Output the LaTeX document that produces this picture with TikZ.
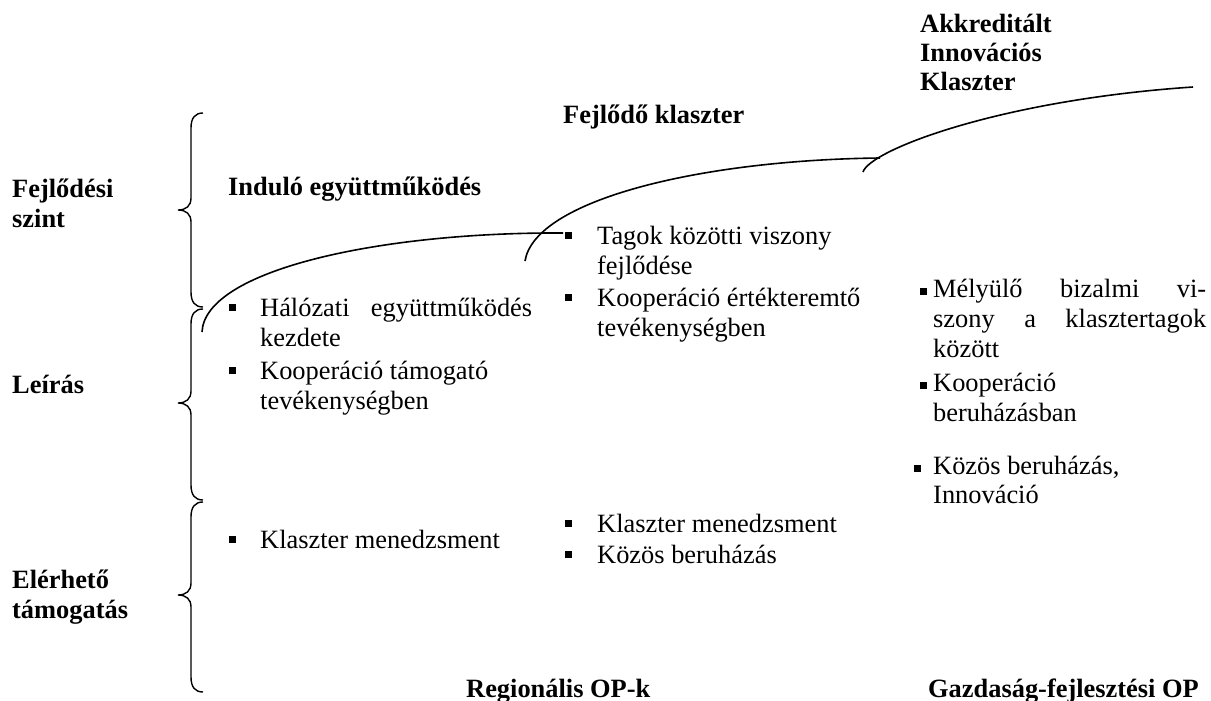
\documentclass[tikz,border=0pt]{standalone}
\usepackage{fontspec}
\setmainfont{Liberation Serif}
\begin{document}
\begin{tikzpicture}[x=1pt,y=-1pt,
  txt/.style={anchor=base west,inner sep=0pt,font=\fontsize{26.4}{30}\selectfont},
  btxt/.style={txt,font=\fontsize{26.4}{30}\selectfont\bfseries},
  sq/.style={fill=black,inner sep=0pt,minimum size=7pt},
  curve/.style={line width=1.6pt},
  brace/.style={line width=1.4pt}]
\useasboundingbox (0,0) rectangle (1211,701);

% left labels
\node[btxt] (fej1) at (12,197) {Fejlődési};
\node[btxt] (fej2) at (12,227) {szint};
\node[btxt] (leir) at (12,393) {Leírás};
\node[btxt] (elt1) at (12,588) {Elérhető};
\node[btxt] (elt2) at (12,618) {támogatás};

% braces
\draw[brace] (203,113) .. controls (195,113) and (191,118) .. (191,128) -- (191,198) .. controls (191,206) and (186,210) .. (178,210) .. controls (186,210) and (191,214) .. (191,222) -- (191,292) .. controls (191,302) and (195,307) .. (203,307);
\draw[brace] (203,309) .. controls (195,309) and (191,314) .. (191,324) -- (191,391) .. controls (191,399) and (186,403) .. (178,403) .. controls (186,403) and (191,407) .. (191,415) -- (191,485) .. controls (191,495) and (195,500) .. (203,500);
\draw[brace] (203,502) .. controls (195,502) and (191,507) .. (191,517) -- (191,583) .. controls (191,591) and (186,595) .. (178,595) .. controls (186,595) and (191,599) .. (191,607) -- (191,677) .. controls (191,687) and (195,692) .. (203,692);

% stage titles
\node[btxt] (ind) at (228,195) {Induló együttműködés};
\node[btxt] (fk) at (563,123) {Fejlődő klaszter};
\node[btxt] (ak1) at (920,33) {Akkreditált};
\node[btxt] (ak2) at (920,62) {Innovációs};
\node[btxt] (ak3) at (920,91) {Klaszter};

% curves
\coordinate (c1s) at (202,332);
\coordinate (c1e) at (563,233);
\coordinate (c2s) at (525,261);
\coordinate (c2e) at (880,158);
\coordinate (c3s) at (863,172);
\coordinate (c3e) at (1193,87);
\draw[curve] (c1s) .. controls (205,270) and (380,232) .. (c1e);
\draw[curve] (c2s) .. controls (535,200) and (700,160) .. (c2e);
\draw[curve] (c3s) .. controls (870,150) and (1000,100) .. (c3e);

% column 1
\node[sq] (b11) at (232,307) {};
\node[txt] (t11) at (260,316) {\makebox[272pt][l]{Hálózati\hfill együttműködés}};
\node[txt] (t12) at (260,346) {kezdete};
\node[sq] (b12) at (232,370) {};
\node[txt] (t13) at (260,379) {Kooperáció támogató};
\node[txt] (t14) at (260,409) {tevékenységben};
\node[sq] (b13) at (232,539) {};
\node[txt] (t15) at (260,548) {Klaszter menedzsment};

% column 2
\node[sq] (b21) at (568,235) {};
\node[txt] (t21) at (597,244) {Tagok közötti viszony};
\node[txt] (t22) at (597,274) {fejlődése};
\node[sq] (b22) at (568,297) {};
\node[txt] (t23) at (597,306) {Kooperáció értékteremtő};
\node[txt] (t24) at (597,336) {tevékenységben};
\node[sq] (b23) at (568,523) {};
\node[txt] (t25) at (597,532) {Klaszter menedzsment};
\node[sq] (b24) at (568,554) {};
\node[txt] (t26) at (597,563) {Közös beruházás};

% column 3
\node[sq] (b31) at (923,291) {};
\node[txt] (t31) at (933,297) {\makebox[273pt][l]{Mélyülő\hfill bizalmi\hfill vi-}};
\node[txt] (t32) at (933,327) {\makebox[273pt][l]{szony\hfill a\hfill klasztertagok}};
\node[txt] (t33) at (933,357) {között};
\node[sq] (b32) at (923,385) {};
\node[txt] (t34) at (933,391) {Kooperáció};
\node[txt] (t35) at (933,421) {beruházásban};
\node[sq] (b33) at (917,468) {};
\node[txt] (t36) at (933,474) {Közös beruházás,};
\node[txt] (t37) at (933,503) {Innováció};

% bottom labels
\node[btxt] (reg) at (466,697) {Regionális OP-k};
\node[btxt] (gop) at (928,697) {Gazdaság-fejlesztési OP};
\end{tikzpicture}
\end{document}
